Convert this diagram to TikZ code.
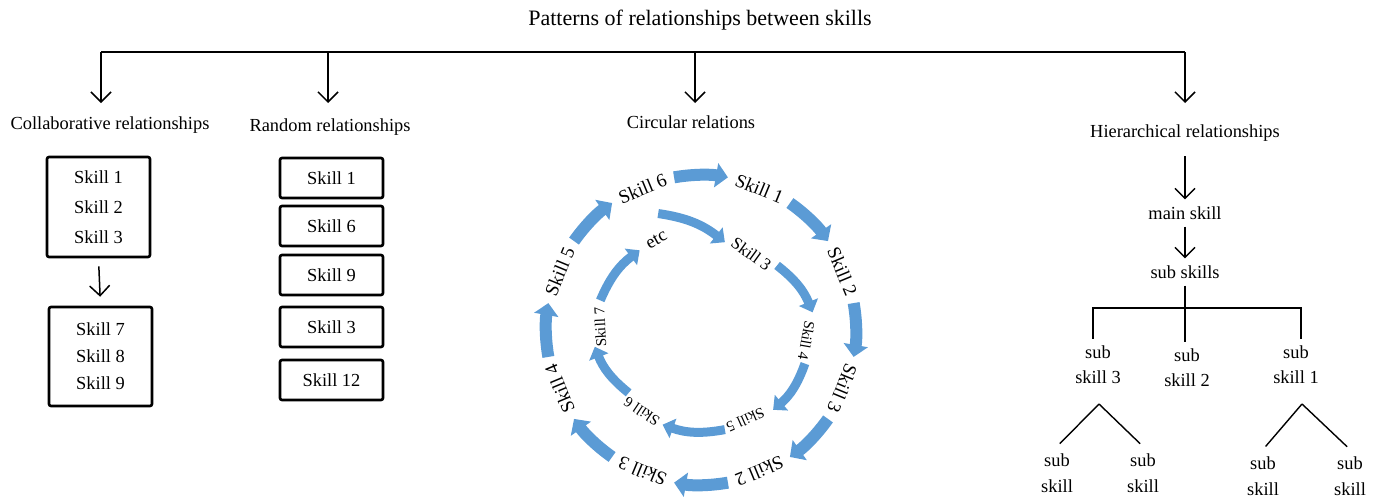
\documentclass[tikz,border=0pt]{standalone}
\usepackage{fontspec}
\setmainfont{Liberation Serif}
\usepackage{tikz}
\usetikzlibrary{arrows.meta}
\definecolor{ringblue}{RGB}{91,155,213}

\begin{document}
\begin{tikzpicture}[x=0.5pt, y=0.5pt,
    font=\fontsize{9.2}{11}\selectfont,
    downarrow/.style={line width=0.75pt, -{Straight Barb[length=5pt, width=10pt]}},
    skillbox/.style={draw, line width=1.3pt, rounded corners=1pt, minimum width=51.5pt, align=center, inner sep=0pt},
    outerarrow/.style={ringblue, line width=6pt, -{Triangle[length=6pt, width=12pt]}},
    innerarrow/.style={ringblue, line width=4.5pt, -{Triangle[length=5.5pt, width=10pt]}},
    treeline/.style={line width=0.7pt}]

  \useasboundingbox (0,0) rectangle (1380,-498);

  % title and top bar
  \node (title) at (700,-20) {\fontsize{11}{13}\selectfont Patterns of relationships between skills};
  \coordinate (barA) at (101,-52);
  \coordinate (barB) at (328,-52);
  \coordinate (barC) at (695,-52);
  \coordinate (barD) at (1185,-52);
  \coordinate (dropA) at (101,-103);
  \coordinate (dropB) at (328,-103);
  \coordinate (dropC) at (695,-103);
  \coordinate (dropD) at (1185,-103);
  \draw[line width=1pt] (barA) -- (barD);
  \foreach \p in {A,B,C,D}
    \draw[downarrow] (bar\p) -- (drop\p);

  % headings
  \node (collab) at (110,-125) {Collaborative relationships};
  \node (random) at (330,-127) {Random relationships};
  \node (circ) at (691,-122) {Circular relations};
  \node (hier) at (1185,-133) {Hierarchical relationships};

  % collaborative
  \node[skillbox, minimum height=50pt] (colA) at (98.5,-207)
    {Skill 1\\[4pt]Skill 2\\[4pt]Skill 3};
  \node[skillbox, minimum height=49.5pt] (colB) at (100.5,-356.5)
    {Skill 7\\[2.5pt]Skill 8\\[2.5pt]Skill 9};
  \draw[downarrow, shorten <=4pt, shorten >=4.5pt] (colA.south) -- (colB.north);

  % random
  \foreach \n/\y/\t in {1/178/Skill 1, 2/226/Skill 6, 3/275/Skill 9, 4/327/Skill 3, 5/380/Skill 12}
    \node[skillbox, minimum height=20pt] (rand\n) at (331.5,-\y) {\t};

  % circular, outer ring
  \coordinate (outer) at (701,-330);
  \foreach \a/\t [count=\i] in {67.5/Skill 1, 22.5/Skill 2, -22.5/Skill 3, -67.5/Skill 2,
      -112.5/Skill 3, -157.5/Skill 4, 157.5/Skill 5, 112.5/Skill 6}
    \node[rotate=\a-90, font=\fontsize{9.5}{11}\selectfont] (ring\i) at ([shift={(\a:153)}]outer) {\t};
  \foreach \a in {90,45,0,-45,-90,-135,180,135}
    \draw[outerarrow] ([shift={(\a+10:155)}]outer) arc[start angle=\a+10, end angle=\a-10, radius=155];

  % circular, inner ring
  \coordinate (inner) at (702,-322);
  \foreach \a/\r/\t/\s [count=\i] in {119/94/etc/9.2, 54/84/Skill 3/8.5, -10/106/Skill 4/7.5,
      -66/107/Skill 5/7.5, -124/108/Skill 6/7.5, 183/102/Skill 7/7.5}
    \node[rotate=\a-90, font=\fontsize{\s}{10}\selectfont] (core\i) at ([shift={(\a:\r)}]inner) {\t};
  \foreach \s/\rs/\e/\re in {112/117/74/83, 37/94/5/111, -22/111/-51/113,
      -78/110/-111/110, -136/102/-167/110, 168/104/131/95}
    \draw[innerarrow] ([shift={(\s:\rs)}]inner) to[bend left=15] ([shift={(\e:\re)}]inner);

  % hierarchical
  \node (main) at (1185,-213) {main skill};
  \node (subs) at (1185,-272) {sub skills};
  \draw[downarrow, shorten <=4pt] (hier.south) -- (main.north);
  \draw[downarrow] (main.south) -- (subs.north);

  \node[align=center] (sk3) at (1098,-365) {sub\\[1.5pt]skill 3};
  \node[align=center] (sk2) at (1187,-368) {sub\\[1.5pt]skill 2};
  \node[align=center] (sk1) at (1296,-365) {sub\\[1.5pt]skill 1};
  \coordinate (fork) at (1185,-308);
  \draw[line width=0.9pt] (subs.south) -- (subs.south |- sk2.north);
  \draw[line width=0.9pt] ([xshift=-2.5pt]sk3.north) |- (fork) -| ([xshift=2.5pt]sk1.north);

  % leaves
  \node[align=center] (leafA) at (1057,-473) {sub\\[2pt]skill};
  \node[align=center] (leafB) at (1143,-473) {sub\\[2pt]skill};
  \node[align=center] (leafC) at (1263,-476) {sub\\[2pt]skill};
  \node[align=center] (leafD) at (1350,-476) {sub\\[2pt]skill};
  \coordinate (apexA) at (1099,-404);
  \coordinate (apexB) at (1302,-404);
  \draw[treeline, shorten >=2pt] (apexA) -- (leafA.north);
  \draw[treeline, shorten >=2pt] (apexA) -- (leafB.north);
  \draw[treeline, shorten >=2pt] (apexB) -- (leafC.north);
  \draw[treeline, shorten >=2pt] (apexB) -- (leafD.north);
\end{tikzpicture}
\end{document}
